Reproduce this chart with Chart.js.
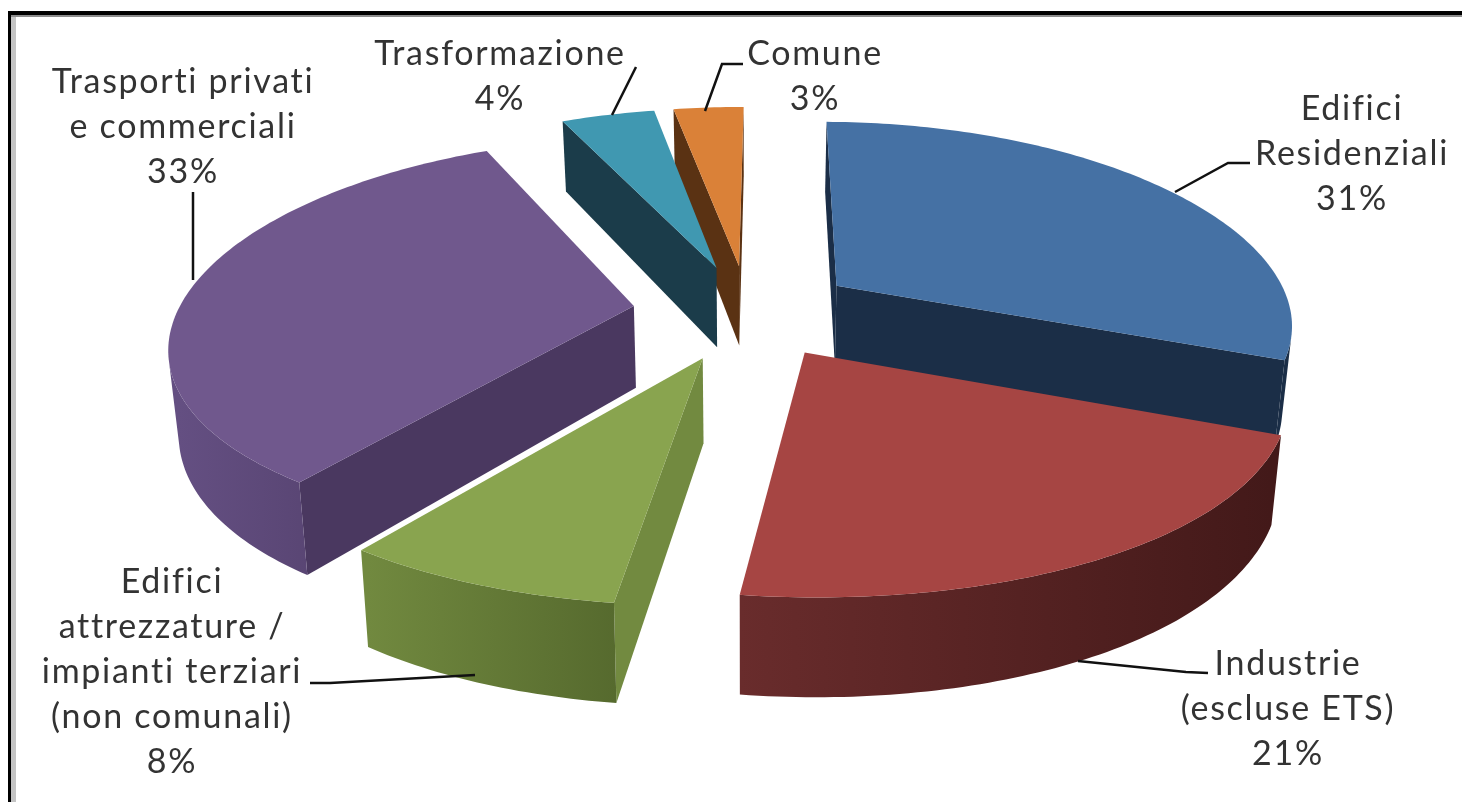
<!DOCTYPE html>
<html lang="it">
<head>
<meta charset="utf-8">
<title>Consumi per settore</title>
<script src="https://cdn.jsdelivr.net/npm/chart.js@4/dist/chart.umd.min.js"></script>
<style>
  html, body { margin: 0; padding: 0; background: #fff; overflow: hidden; }
  canvas { display: block; }
</style>
</head>
<body>
<canvas id="pieChart" width="1462" height="802"></canvas>
<script>
// sector shares, clockwise from the top
const categories = ['Edifici Residenziali', 'Industrie (escluse ETS)', 'Edifici attrezzature / impianti terziari (non comunali)', 'Trasporti privati e commerciali', 'Trasformazione', 'Comune'];
const shares = [31, 21, 8, 33, 4, 3];

// wrapped label lines, same order as categories
const labelLines = [
  ['Edifici', 'Residenziali'],
  ['Industrie', '(escluse ETS)'],
  ['Edifici', 'attrezzature /', 'impianti terziari', '(non comunali)'],
  ['Trasporti privati', 'e commerciali'],
  ['Trasformazione'],
  ['Comune']
];

const topColors = ['#4571a4', '#a64543', '#89a44f', '#70588d', '#4098b1', '#da8138'];
const cutColors = ['#1b2e47', '#451a1a', '#728a40', '#4a3860', '#1b3c4a', '#5a3213'];
const rimLeft = ['#1b2e47', '#692c2c', '#71893f', '#644f82', '#1b3c4a', '#5a3213'];
const rimRight = ['#1b2e47', '#431919', '#566a2e', '#4a3860', '#1b3c4a', '#5a3213'];
const explode = [85, 85, 90, 90, 85, 85];

// label centre x, first baseline y
const labelAnchors = [[1352, 120], [1288, 675], [172, 593], [183, 93], [500, 65], [815, 65]];
const leaders = [
  [[1250, 163], [1228, 163], [1175, 192]],
  [[1208, 673], [1186, 672], [1078, 661]],
  [[310, 683], [330, 683], [475, 675]],
  [[193, 192], [193, 280]],
  [[636, 67], [612, 115]],
  [[743, 64], [722, 64], [705, 111]]
];

// oblique view of the pie
const view = { cx: 748, cy: 311, a: 456, b: 195, kx: 0.18, ky: 0.148, depth: 82, taper: 0.018 };

function project(wx, wy, z) {
  const sx = 1 / (1 - view.kx * wy);
  const sy = 1 / (1 - view.ky * wy);
  return {
    x: view.cx + view.a * wx * sx * (1 - view.taper * z),
    y: view.cy + view.b * wy * sy + view.depth * z * sy
  };
}

function tracePath(ctx, pts) {
  ctx.beginPath();
  pts.forEach((p, i) => (i ? ctx.lineTo(p.x, p.y) : ctx.moveTo(p.x, p.y)));
  ctx.closePath();
}

function facesViewer(a, b, c, d) {
  const q = [a, b, c, d];
  let sum = 0;
  q.forEach((p, i) => {
    const n = q[(i + 1) % 4];
    sum += p.x * n.y - n.x * p.y;
  });
  return sum < 0;
}

function fillShape(ctx, pts, fill) {
  tracePath(ctx, pts);
  ctx.fillStyle = fill;
  ctx.fill();
}

function drawSlice(ctx, arc, i) {
  const r = arc.outerRadius;
  const mid = (arc.startAngle + arc.endAngle) / 2;
  const d = arc.options.offset / r;
  const ox = d * Math.cos(mid);
  const oy = d * Math.sin(mid);

  // outline in world units: apex, then the rim
  const world = [[ox, oy]];
  const steps = Math.max(6, Math.ceil((arc.endAngle - arc.startAngle) * 60));
  for (let n = 0; n <= steps; n++) {
    const t = arc.startAngle + (arc.endAngle - arc.startAngle) * n / steps;
    world.push([ox + Math.cos(t), oy + Math.sin(t)]);
  }
  const top = world.map(w => project(w[0], w[1], 0));
  const bottom = world.map(w => project(w[0], w[1], 1));

  // horizontal shading of the curved wall
  const xs = bottom.slice(1).map(p => p.x);
  const grad = ctx.createLinearGradient(Math.min(...xs), 0, Math.max(...xs), 0);
  grad.addColorStop(0, rimLeft[i]);
  grad.addColorStop(1, rimRight[i]);

  const last = top.length - 1;
  // cut faces first, then curved wall, then the lid
  if (facesViewer(top[0], top[1], bottom[1], bottom[0])) {
    fillShape(ctx, [top[0], top[1], bottom[1], bottom[0]], cutColors[i]);
  }
  if (facesViewer(top[last], top[0], bottom[0], bottom[last])) {
    fillShape(ctx, [top[last], top[0], bottom[0], bottom[last]], cutColors[i]);
  }
  // the visible part of the rim goes in as one polygon, so no seams show
  let upper = [];
  let lower = [];
  for (let n = 1; n < last; n++) {
    if (facesViewer(top[n], top[n + 1], bottom[n + 1], bottom[n])) {
      if (!upper.length) {
        upper.push(top[n]);
        lower.push(bottom[n]);
      }
      upper.push(top[n + 1]);
      lower.push(bottom[n + 1]);
    }
  }
  if (upper.length) fillShape(ctx, upper.concat(lower.reverse()), grad);
  fillShape(ctx, top, topColors[i]);
}

const solidPie = {
  id: 'solidPie',
  beforeDraw(chart) {
    const ctx = chart.ctx;
    ctx.save();
    ctx.fillStyle = '#fff';
    ctx.fillRect(0, 0, chart.width, chart.height);
    // sheet border, top and left only
    ctx.fillStyle = '#c4c4c4';
    ctx.fillRect(11, 15, 5, chart.height - 15);
    ctx.fillStyle = '#8c8c8c';
    ctx.fillRect(11, 15, chart.width - 11, 2);
    ctx.fillStyle = '#000';
    ctx.fillRect(8, 11, chart.width - 8, 4);
    ctx.fillRect(8, 11, 3, chart.height - 11);
    ctx.restore();
  },
  beforeDatasetDraw(chart, args) {
    const ctx = chart.ctx;
    const arcs = args.meta.data;
    // back slices first
    const order = arcs.map((a, i) => i).sort((p, q) => {
      const mp = (arcs[p].startAngle + arcs[p].endAngle) / 2;
      const mq = (arcs[q].startAngle + arcs[q].endAngle) / 2;
      return Math.sin(mp) - Math.sin(mq);
    });
    ctx.save();
    order.forEach(i => drawSlice(ctx, arcs[i], i));
    ctx.restore();
    return false;
  },
  afterDatasetsDraw(chart) {
    const ctx = chart.ctx;
    ctx.save();
    ctx.strokeStyle = '#111';
    ctx.lineWidth = 2.5;
    leaders.forEach(line => {
      ctx.beginPath();
      line.forEach((p, i) => (i ? ctx.lineTo(p[0], p[1]) : ctx.moveTo(p[0], p[1])));
      ctx.stroke();
    });
    ctx.fillStyle = '#333';
    ctx.font = '34px Lato';
    ctx.letterSpacing = '1.7px';
    ctx.textAlign = 'center';
    ctx.textBaseline = 'alphabetic';
    shares.forEach((v, i) => {
      const [x, y] = labelAnchors[i];
      const lines = labelLines[i].concat(v + '%');
      lines.forEach((t, n) => ctx.fillText(t, x, y + n * 45));
    });
    ctx.restore();
  }
};

new Chart(document.getElementById('pieChart'), {
  type: 'pie',
  data: {
    labels: categories,
    datasets: [{
      data: shares,
      backgroundColor: topColors,
      borderWidth: 0,
      offset: explode
    }]
  },
  options: {
    responsive: false,
    animation: false,
    rotation: 0.5,
    plugins: { legend: { display: false }, tooltip: { enabled: false } }
  },
  plugins: [solidPie]
});
</script>
</body>
</html>
